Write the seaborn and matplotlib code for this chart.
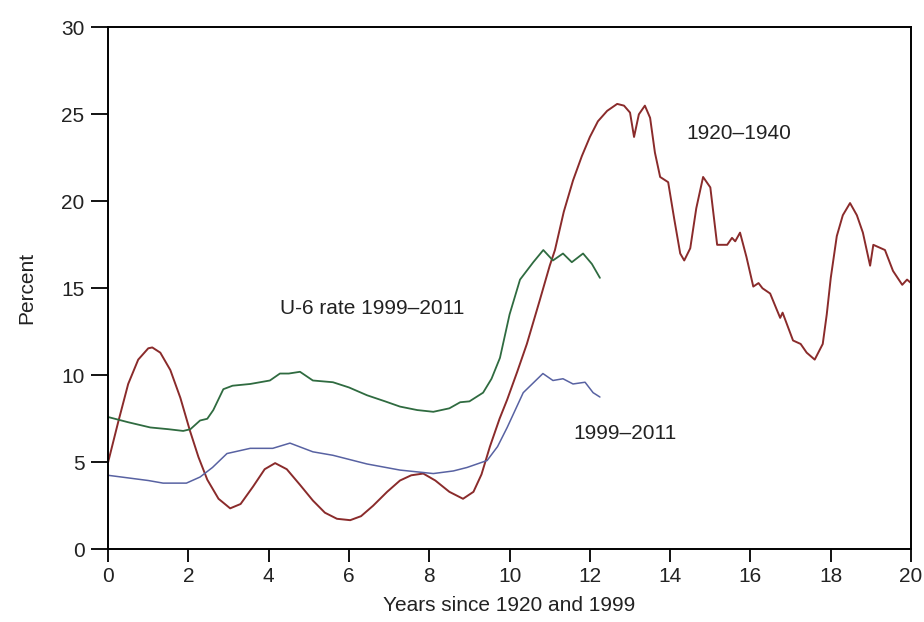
import seaborn as sns
import matplotlib.pyplot as plt
import pandas as pd

# Unemployment rate
red_x = [0, 0.25, 0.5, 0.75, 1.0, 1.1, 1.3, 1.55, 1.8, 2.04, 2.25, 2.47, 2.75, 3.04, 3.3,
         3.61, 3.9, 4.16, 4.45, 4.78, 5.1, 5.4, 5.7, 6.03, 6.3, 6.6, 6.95, 7.27, 7.55, 7.85,
         8.15, 8.5, 8.84, 9.1, 9.3, 9.51, 9.75, 9.94, 10.19, 10.43, 10.75, 11.0, 11.13, 11.35,
         11.58, 11.8, 12.0, 12.2, 12.43, 12.68, 12.85, 13.0, 13.1, 13.22, 13.37, 13.5, 13.62,
         13.75, 13.95, 14.1, 14.25, 14.35, 14.5, 14.65, 14.82, 15.0, 15.17, 15.42, 15.54, 15.62,
         15.74, 15.9, 16.07, 16.2, 16.3, 16.49, 16.65, 16.74, 16.8, 17.06, 17.25, 17.4, 17.6,
         17.8, 17.9, 18.0, 18.15, 18.3, 18.48, 18.65, 18.8, 18.98, 19.06, 19.35, 19.55, 19.78,
         19.9, 20.0]
red_y = [5.0, 7.3, 9.5, 10.9, 11.55, 11.6, 11.3, 10.3, 8.7, 6.8, 5.3, 4.0, 2.9, 2.35, 2.6,
         3.6, 4.6, 4.95, 4.6, 3.7, 2.8, 2.1, 1.75, 1.67, 1.9, 2.5, 3.3, 3.95, 4.25, 4.35,
         3.95, 3.3, 2.9, 3.3, 4.3, 5.9, 7.5, 8.6, 10.2, 11.8, 14.3, 16.3, 17.2, 19.4,
         21.2, 22.6, 23.7, 24.6, 25.2, 25.6, 25.5, 25.1, 23.7, 25.0, 25.5, 24.8, 22.8,
         21.4, 21.1, 19.0, 17.0, 16.6, 17.3, 19.6, 21.4, 20.8, 17.5, 17.5, 17.9, 17.7,
         18.2, 16.8, 15.1, 15.3, 15.0, 14.7, 13.8, 13.3, 13.6, 12.0, 11.8, 11.3, 10.9,
         11.8, 13.5, 15.6, 18.0, 19.2, 19.9, 19.2, 18.2, 16.3, 17.5, 17.2, 16.0, 15.2,
         15.5, 15.3]

u6_x = [0, 0.5, 1.05, 1.5, 1.87, 2.05, 2.29, 2.47, 2.62, 2.87, 3.1, 3.54, 4.03, 4.28, 4.5,
        4.78, 5.1, 5.6, 6.0, 6.45, 6.9, 7.27, 7.7, 8.1, 8.5, 8.77, 9.0, 9.34, 9.55, 9.76,
        10.0, 10.26, 10.59, 10.84, 11.08, 11.33, 11.55, 11.83, 12.05, 12.25]
u6_y = [7.6, 7.3, 7.0, 6.9, 6.8, 6.9, 7.4, 7.5, 8.0, 9.2, 9.4, 9.5, 9.7, 10.1, 10.1,
        10.2, 9.7, 9.6, 9.3, 8.85, 8.5, 8.2, 8.0, 7.9, 8.1, 8.45, 8.5, 9.0, 9.8, 11.0,
        13.5, 15.5, 16.5, 17.2, 16.6, 17.0, 16.5, 17.0, 16.4, 15.6]

blue_x = [0, 0.5, 1.0, 1.37, 1.95, 2.29, 2.6, 2.96, 3.54, 4.1, 4.53, 5.1, 5.6, 6.45,
          7.27, 8.1, 8.6, 8.94, 9.44, 9.7, 9.94, 10.34, 10.83, 11.08, 11.33, 11.58,
          11.88, 12.08, 12.25]
blue_y = [4.25, 4.1, 3.95, 3.8, 3.8, 4.15, 4.7, 5.5, 5.8, 5.8, 6.1, 5.6, 5.4, 4.9,
          4.55, 4.35, 4.5, 4.7, 5.1, 5.9, 7.0, 9.0, 10.1, 9.7, 9.8, 9.5,
          9.6, 9.0, 8.75]

red = pd.DataFrame({'x': red_x, 'y': red_y})
u6 = pd.DataFrame({'x': u6_x, 'y': u6_y})
blue = pd.DataFrame({'x': blue_x, 'y': blue_y})

sns.set_style("ticks")
plt.rcParams['font.family'] = ['Liberation Sans', 'DejaVu Sans']
plt.rcParams['text.color'] = '#222222'
plt.rcParams['axes.labelcolor'] = '#222222'
plt.rcParams['xtick.color'] = 'black'
plt.rcParams['ytick.color'] = 'black'
plt.rcParams['xtick.labelcolor'] = '#222222'
plt.rcParams['ytick.labelcolor'] = '#222222'

fig = plt.figure(figsize=(9.24, 6.22), dpi=100)
ax = fig.add_axes([0.117, 0.117, 0.869, 0.839])

sns.lineplot(data=red, x='x', y='y', color='#8a2b2b', linewidth=1.4, ax=ax)
sns.lineplot(data=u6, x='x', y='y', color='#2f6b40', linewidth=1.3, ax=ax)
sns.lineplot(data=blue, x='x', y='y', color='#5862a2', linewidth=1.1, ax=ax)

ax.set_xlim(0, 20)
ax.set_ylim(0, 30)
ax.set_xticks(range(0, 21, 2))
ax.set_yticks(range(0, 31, 5))
ax.tick_params(axis='y', length=12, width=1.3, pad=5, labelsize=15)
ax.tick_params(axis='x', length=9, width=1.3, pad=4, labelsize=15)
for s in ax.spines.values():
    s.set_linewidth(1.4)
    s.set_color('black')

ax.set_xlabel("Years since 1920 and 1999", fontsize=15, labelpad=7)
ax.set_ylabel("Percent", fontsize=15, labelpad=18)

ax.text(4.28, 13.85, "U-6 rate 1999–2011", fontsize=15, va='center', ha='left')
ax.text(11.58, 6.67, "1999–2011", fontsize=15, va='center', ha='left')
ax.text(14.4, 23.9, "1920–1940", fontsize=15, va='center', ha='left')

fig.savefig("out.png", dpi=100)
